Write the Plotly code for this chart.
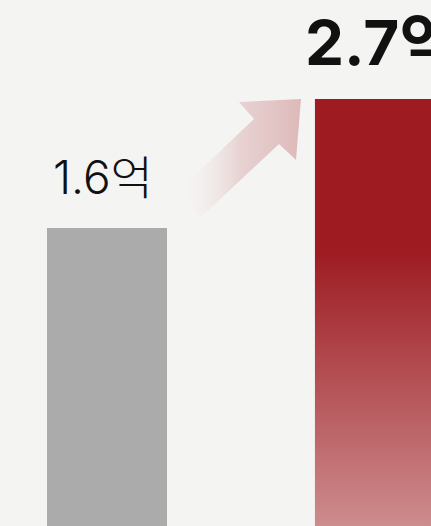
import plotly.graph_objects as go

# data
categories = ["before", "after"]
values = [1.6, 2.7]
labels = ["1.6억", "2.7억"]

BG = "#f4f4f2"
W, H = 431, 526
y_min, y_max = -0.941, 3.544
x_min, x_max = -0.399, 1.209
bar_w = 0.448

fig = go.Figure()

# gray bar (first category)
fig.add_trace(go.Bar(
    x=[0], y=[values[0] - y_min], base=[y_min], width=[bar_w],
    marker=dict(color="#ababab", line=dict(width=0)),
    hoverinfo="skip", showlegend=False,
))

# red bar (second category) with vertical gradient fill, built from data
i = 1
x0, x1 = i - bar_w / 2, i + bar_w / 2
fig.add_trace(go.Scatter(
    x=[x0, x1, x1, x0, x0],
    y=[y_min, y_min, values[i], values[i], y_min],
    mode="lines", line=dict(width=0), fill="toself",
    fillgradient=dict(
        type="vertical",
        start=y_min, stop=values[i],
        colorscale=[[0, "#cd8c8e"], [0.646, "#9d1b21"], [1, "#9d1b21"]],
    ),
    hoverinfo="skip", showlegend=False,
))

# decorative arrow (overlay pixel-space axes)
ax = [179, 254, 239, 301, 296, 279, 201, 179]
ay = [190, 119, 102, 99, 160, 144, 217, 190]
fig.add_trace(go.Scatter(
    x=ax, y=ay, xaxis="x2", yaxis="y2",
    mode="lines", line=dict(width=0), fill="toself",
    fillgradient=dict(
        type="horizontal", start=180, stop=300,
        colorscale=[[0, "rgba(244,243,241,0)"], [0.5, "rgba(232,210,210,1)"], [1, "rgba(222,186,186,1)"]],
    ),
    hoverinfo="skip", showlegend=False,
))

# labels
fig.add_annotation(
    x=0, y=values[0], xref="x", yref="y", text=labels[0], showarrow=False,
    xanchor="left", yanchor="bottom", xshift=-(107 - 51), yshift=21,
    font=dict(family="Inter, Noto Sans CJK KR", size=46, color="#111111", weight=300),
)
fig.add_annotation(
    x=1, y=values[1], xref="x", yref="y", text=labels[1], showarrow=False,
    xanchor="left", yanchor="bottom", xshift=-(375 - 303), yshift=17,
    font=dict(family="Inter, Noto Sans CJK KR", size=62, color="#111111", weight=700),
)

fig.update_layout(
    width=W, height=H,
    margin=dict(l=0, r=0, t=0, b=0),
    paper_bgcolor=BG, plot_bgcolor=BG,
    xaxis=dict(range=[x_min, x_max], visible=False, fixedrange=True),
    yaxis=dict(range=[y_min, y_max], visible=False, fixedrange=True),
    xaxis2=dict(range=[0, W], overlaying="x", visible=False, fixedrange=True),
    yaxis2=dict(range=[H, 0], overlaying="y", visible=False, fixedrange=True),
    bargap=0,
    showlegend=False,
)

fig.write_html(
    "out.html",
    config={"displayModeBar": False},
    post_script="document.body.style.margin='0';document.body.style.overflow='hidden';document.body.style.background='#f4f4f2';",
)
